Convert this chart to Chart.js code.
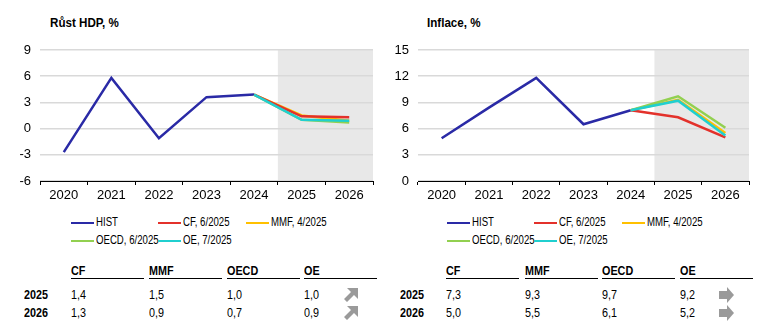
<!DOCTYPE html>
<html>
<head>
<meta charset="utf-8">
<script src="https://cdn.jsdelivr.net/npm/chart.js@4"></script>
<style>
  body { margin: 0; width: 763px; height: 333px; background: #fff; position: relative; overflow: hidden;
         font-family: "Liberation Sans", Arial, sans-serif; color: #000; }
  .abs { position: absolute; white-space: nowrap; }
  .uz { transform: scaleX(0.83); transform-origin: 0 50%; }
  .title { font-weight: bold; font-size: 13.5px; transform: scaleX(0.86); transform-origin: 0 50%; }
  .leg { font-size: 12.5px; line-height: 14px; }
  .leg i { display: inline-block; width: 23px; height: 2px; vertical-align: middle; margin-right: 2px; }
  .leg span { display: inline-block; transform: scaleX(0.77); transform-origin: 0 50%; }
  .th { font-weight: bold; font-size: 13px; }
  .ul { height: 1px; background: #000; }
  .td { font-size: 13px; }
  .rl { font-weight: bold; font-size: 13px; }
</style>
</head>
<body>
<div class="abs title" style="left:50px;top:15px">Růst HDP, %</div>
<div class="abs title" style="left:427px;top:15px">Inflace, %</div>
<canvas id="gdp" class="abs" style="left:0;top:0"></canvas>
<canvas id="inf" class="abs" style="left:380px;top:0"></canvas>
<div id="extra"></div>
<script>
// roky na ose x
const roky = ['2020', '2021', '2022', '2023', '2024', '2025', '2026'];

// Růst HDP, %
const hdpHist = [-2.7, 5.8, -1.1, 3.6, 3.9, null, null];
const hdpCF   = [null, null, null, null, 3.9, 1.4, 1.3];
const hdpMMF  = [null, null, null, null, 3.9, 1.5, 0.9];
const hdpOECD = [null, null, null, null, 3.9, 1.0, 0.7];
const hdpOE   = [null, null, null, null, 3.9, 1.0, 0.9];

// Inflace, %
const infHist = [4.9, 8.4, 11.8, 6.5, 8.1, null, null];
const infCF   = [null, null, null, null, 8.1, 7.3, 5.0];
const infMMF  = [null, null, null, null, 8.1, 9.3, 5.5];
const infOECD = [null, null, null, null, 8.1, 9.7, 6.1];
const infOE   = [null, null, null, null, 8.1, 9.2, 5.2];

const nazvy = ['HIST', 'CF, 6/2025', 'MMF, 4/2025', 'OECD, 6/2025', 'OE, 7/2025'];
const barvy = ['#2a2aa6', '#e3312b', '#ffc000', '#92d050', '#20cfcf'];

// tabulky pod grafy
const sloupce = ['CF', 'MMF', 'OECD', 'OE'];
const radky = ['2025', '2026'];
const tabHdp = [['1,4', '1,5', '1,0', '1,0'], ['1,3', '0,9', '0,7', '0,9']];
const tabInf = [['7,3', '9,3', '9,7', '9,2'], ['5,0', '5,5', '6,1', '5,2']];

// šedý pruh pro prognózu (2025-2026)
const prognozaPlugin = {
    id: 'prognoza',
    beforeDraw(chart) {
        const x = chart.scales.x;
        const a = chart.chartArea;
        const pul = (x.getPixelForValue(1) - x.getPixelForValue(0)) / 2;
        const od = x.getPixelForValue(5) - pul;
        chart.ctx.save();
        chart.ctx.fillStyle = '#e8e8e8';
        chart.ctx.fillRect(od, a.top, a.right - od, a.bottom - a.top);
        chart.ctx.restore();
    }
};

function vytvorGraf(id, sirka, yWidth, pravy, serie, min, max) {
    const canvas = document.getElementById(id);
    canvas.width = sirka;
    canvas.height = 205;
    const datasets = [];
    // poradi kresleni: HIST, MMF, OECD, CF, OE
    const poradi = [0, 2, 3, 1, 4];
    for (let i = 0; i < serie.length; i++) {
        datasets.push({
            label: nazvy[i],
            data: serie[i],
            borderColor: barvy[i],
            borderWidth: 2.5,
            fill: false,
            tension: 0,
            pointRadius: 0,
            order: serie.length - poradi.indexOf(i)
        });
    }
    new Chart(canvas.getContext('2d'), {
        type: 'line',
        data: { labels: roky, datasets: datasets },
        plugins: [prognozaPlugin],
        options: {
            responsive: false,
            animation: false,
            layout: { padding: { top: 50, right: pravy, left: 0, bottom: 0 } },
            plugins: { legend: { display: false }, tooltip: { enabled: false } },
            scales: {
                x: {
                    offset: true,
                    grid: { offset: true, drawOnChartArea: false, drawTicks: true, tickLength: 4, color: '#000' },
                    border: { display: true, color: '#000', width: 1 },
                    ticks: { color: '#000', font: { family: '"Liberation Sans", Arial', size: 13 }, padding: 3, maxRotation: 0 },
                    afterFit(scale) { scale.height = 24; }
                },
                y: {
                    min: min, max: max,
                    ticks: { stepSize: 3, color: '#000', font: { family: '"Liberation Sans", Arial', size: 13 }, padding: 9 },
                    grid: { color: '#d9d9d9', lineWidth: 1.5, drawTicks: false },
                    border: { display: false },
                    afterFit(scale) { scale.width = yWidth; }
                }
            }
        }
    });
}

vytvorGraf('gdp', 380, 40, 7, [hdpHist, hdpCF, hdpMMF, hdpOECD, hdpOE], -6, 9);
vytvorGraf('inf', 383, 38, 14, [infHist, infCF, infMMF, infOECD, infOE], 0, 15);

// legenda a tabulky (HTML)
const extra = document.getElementById('extra');
function pridej(html, left, top, cls, styl) {
    const d = document.createElement('div');
    d.className = 'abs ' + cls;
    d.style.left = left + 'px';
    d.style.top = top + 'px';
    if (styl) d.style.cssText += styl;
    d.innerHTML = html;
    extra.appendChild(d);
}

function legenda(x0) {
    const pozice = [[x0, 215], [x0 + 87, 215], [x0 + 175, 215], [x0, 233], [x0 + 87, 233]];
    for (let i = 0; i < nazvy.length; i++) {
        pridej('<i style="background:' + barvy[i] + '"></i><span>' + nazvy[i] + '</span>', pozice[i][0], pozice[i][1], 'leg');
    }
}

const sipkaDiag = '<svg width="16" height="16" viewBox="0 0 16 16"><polygon points="4,1 15,1 15,12 11,8 4,15 1,12 8,5" fill="#9a9a9a"/></svg>';
const sipkaVpravo = '<svg width="16" height="16" viewBox="0 0 16 16"><polygon points="0,4 8,4 8,0 15,8 8,16 8,12 0,12" fill="#9a9a9a"/></svg>';

function tabulka(x0, xs, tab, sipka, xs2) {
    for (let j = 0; j < sloupce.length; j++) {
        pridej(sloupce[j], xs[j], 263, 'th uz');
        pridej('', xs[j], 278, 'ul', 'width:73px;');
    }
    for (let r = 0; r < radky.length; r++) {
        const y = r === 0 ? 287 : 305;
        pridej(radky[r], x0, y, 'rl uz');
        for (let j = 0; j < sloupce.length; j++) {
            pridej(tab[r][j], xs[j], y, 'td uz');
        }
        pridej(sipka, xs2, y, '');
    }
}

legenda(71);
legenda(447);
tabulka(24, [71, 149, 227, 304], tabHdp, sipkaDiag, 343);
tabulka(400, [446, 525, 602, 680], tabInf, sipkaVpravo, 719);
</script>
</body>
</html>
